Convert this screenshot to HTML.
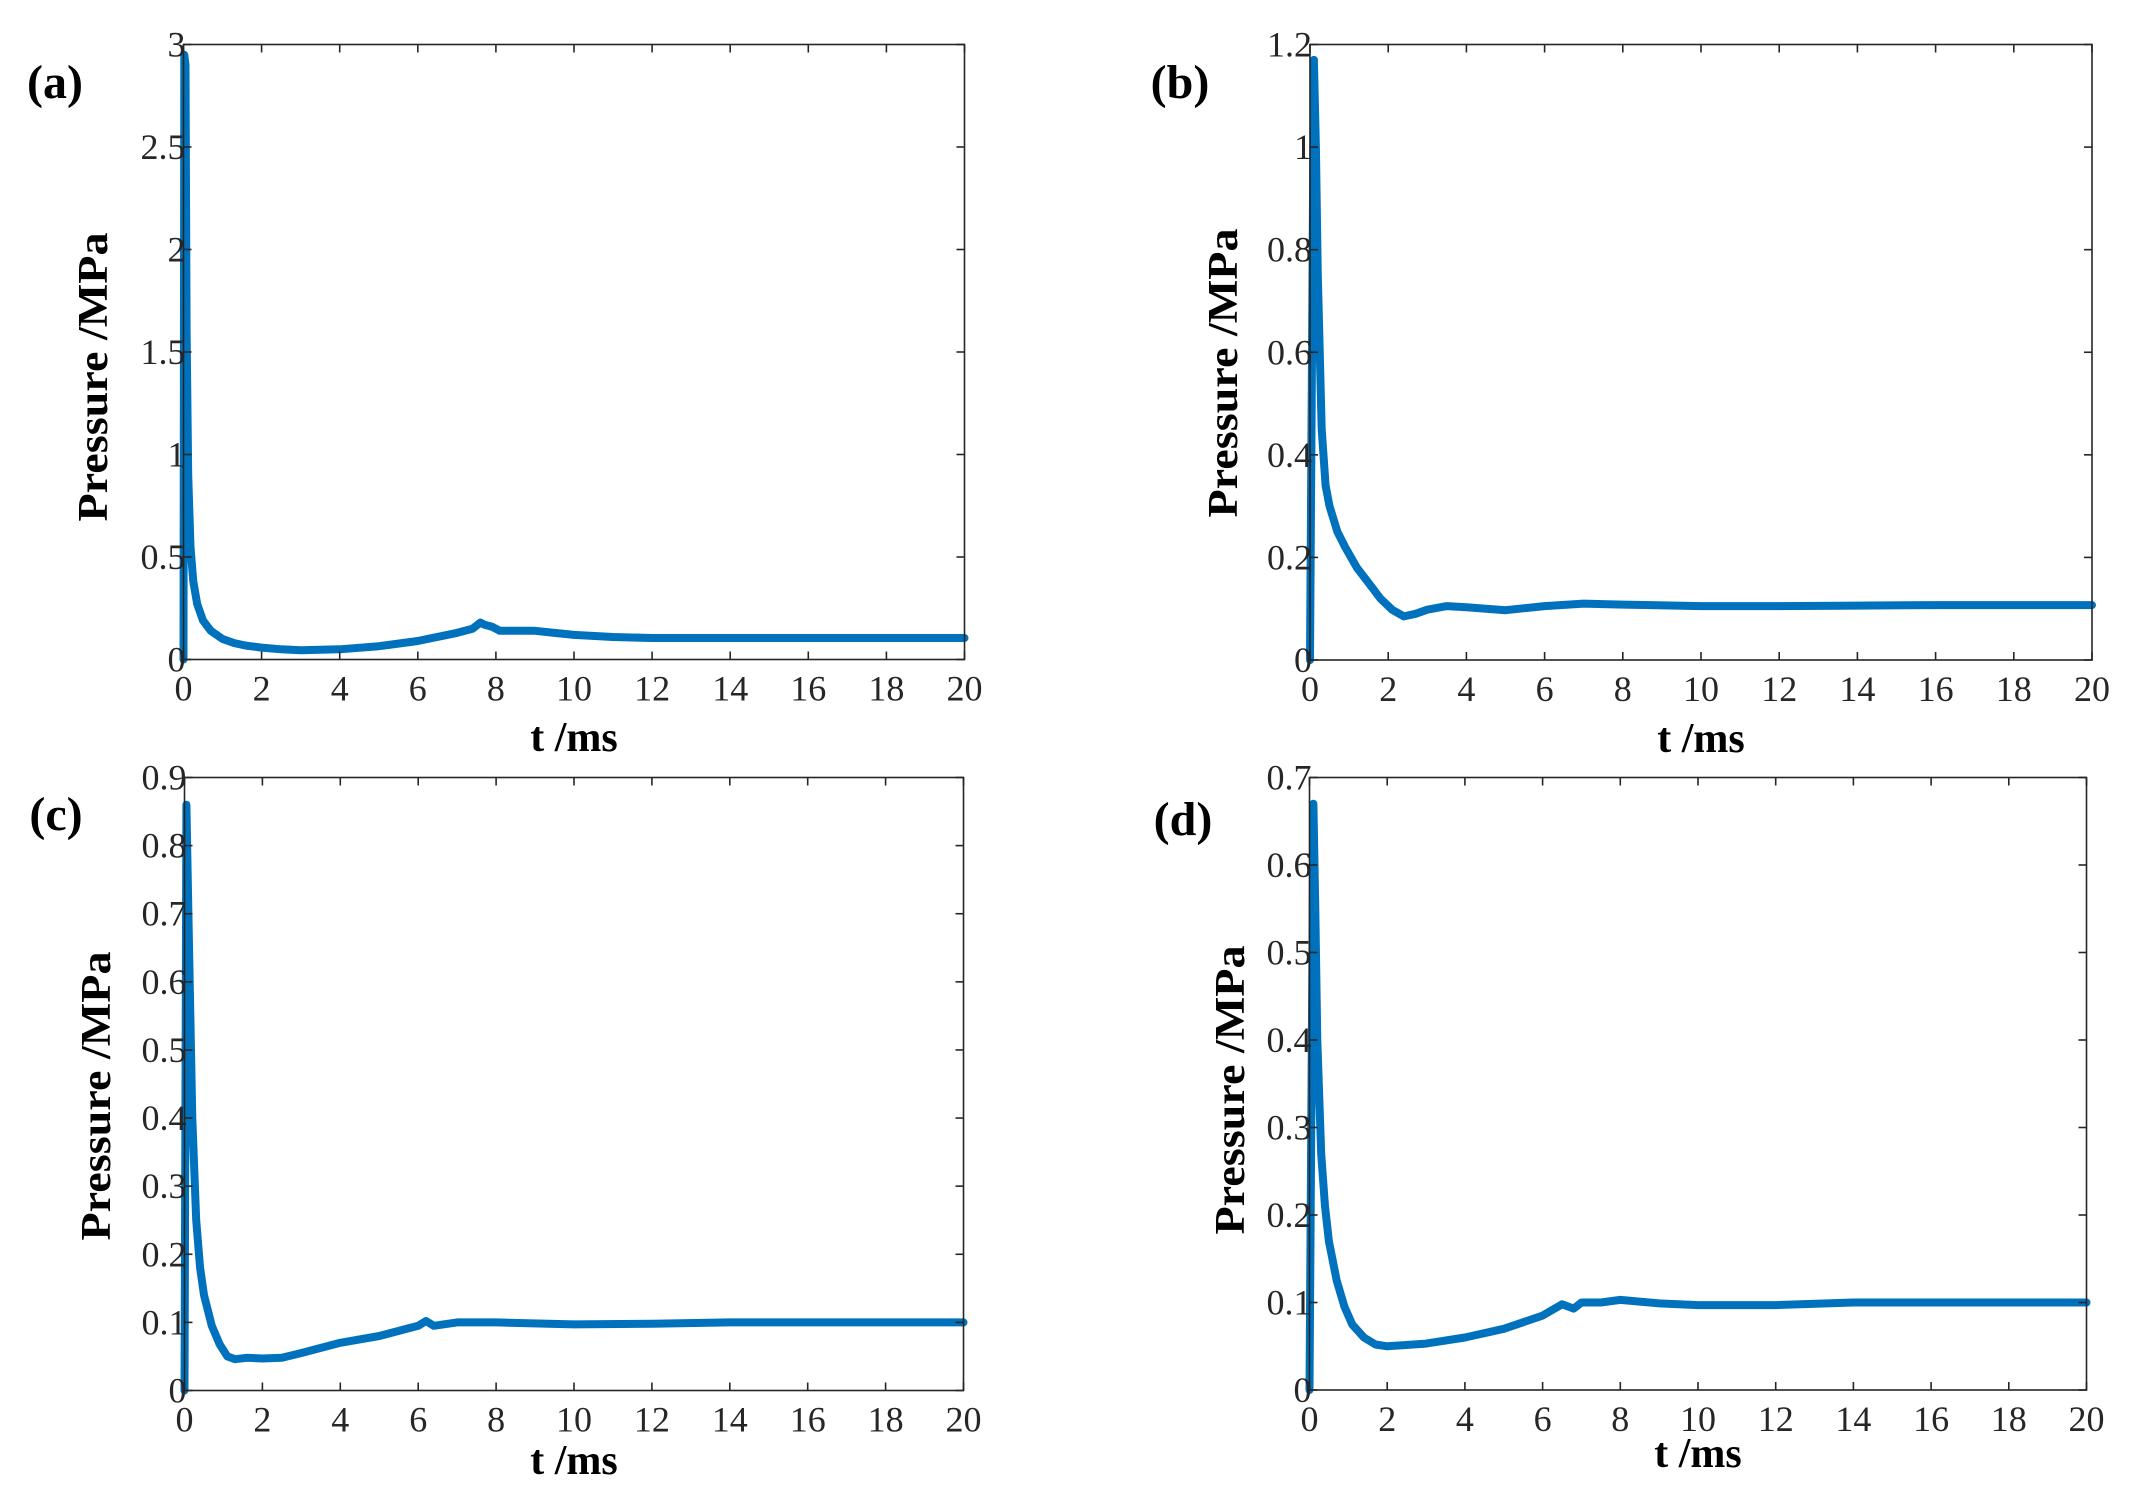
<!DOCTYPE html>
<html><head><meta charset="utf-8"><style>
html,body{margin:0;padding:0;background:#fff;}
svg{display:block;font-family:"Liberation Serif",serif;}
</style></head><body>
<svg id="fig" width="2148" height="1507" viewBox="0 0 2148 1507" xmlns="http://www.w3.org/2000/svg"></svg>
<script>
// Panel (a)
const tA = [0,0.02,0.05,0.08,0.12,0.18,0.25,0.35,0.5,0.7,1,1.3,1.6,2,2.5,3,4,5,6,7,7.4,7.6,7.7,7.9,8.1,8.5,9,9.5,10,11,12,14,16,18,20];
const pA = [0,2.95,2.9,1.6,0.9,0.55,0.38,0.27,0.19,0.14,0.1,0.08,0.068,0.058,0.05,0.045,0.05,0.065,0.09,0.13,0.15,0.18,0.17,0.16,0.14,0.14,0.14,0.13,0.12,0.11,0.105,0.105,0.105,0.105,0.105];
const yTicksA = [0,0.5,1,1.5,2,2.5,3];
const yLabelsA = ["0","0.5","1","1.5","2","2.5","3"];
// Panel (b)
const tB = [0,0.1,0.15,0.2,0.3,0.4,0.5,0.7,0.9,1.2,1.5,1.8,2.1,2.4,2.7,3,3.5,4,5,6,7,8,10,12,14,16,18,20];
const pB = [0,1.17,1.0,0.75,0.45,0.34,0.3,0.25,0.22,0.18,0.15,0.12,0.098,0.085,0.09,0.098,0.105,0.103,0.097,0.105,0.11,0.108,0.105,0.105,0.106,0.107,0.107,0.107];
const yTicksB = [0,0.2,0.4,0.6,0.8,1,1.2];
const yLabelsB = ["0","0.2","0.4","0.6","0.8","1","1.2"];
// Panel (c)
const tC = [0,0.05,0.1,0.2,0.3,0.4,0.5,0.7,0.9,1.1,1.3,1.6,2,2.5,3,4,5,6,6.2,6.4,7,8,10,12,14,16,18,20];
const pC = [0,0.86,0.7,0.4,0.25,0.18,0.14,0.095,0.068,0.05,0.046,0.048,0.047,0.048,0.055,0.07,0.08,0.095,0.102,0.095,0.1,0.1,0.097,0.098,0.1,0.1,0.1,0.1];
const yTicksC = [0,0.1,0.2,0.3,0.4,0.5,0.6,0.7,0.8,0.9];
const yLabelsC = ["0","0.1","0.2","0.3","0.4","0.5","0.6","0.7","0.8","0.9"];
// Panel (d)
const tD = [0,0.1,0.15,0.2,0.3,0.4,0.5,0.7,0.9,1.1,1.4,1.7,2,3,4,5,6,6.5,6.8,7,7.5,8,9,10,12,14,16,18,20];
const pD = [0,0.67,0.55,0.4,0.27,0.21,0.17,0.125,0.095,0.075,0.06,0.052,0.05,0.053,0.06,0.07,0.085,0.098,0.093,0.1,0.1,0.103,0.099,0.097,0.097,0.1,0.1,0.1,0.1];
const yTicksD = [0,0.1,0.2,0.3,0.4,0.5,0.6,0.7];
const yLabelsD = ["0","0.1","0.2","0.3","0.4","0.5","0.6","0.7"];
// shared x axis
const xTicks = [0,2,4,6,8,10,12,14,16,18,20];
const xLabels = ["0","2","4","6","8","10","12","14","16","18","20"];

const NS = "http://www.w3.org/2000/svg";
const svg = document.getElementById('fig');
function mk(tag, attrs, parent){
  const e = document.createElementNS(NS, tag);
  for (const k in attrs) e.setAttribute(k, attrs[k]);
  (parent||svg).appendChild(e);
  return e;
}
const panels = [
  {id:'a', L:183.5, T:44.5, R:964.5, B:659.5, t:tA, p:pA, yt:yTicksA, yl:yLabelsA, ymax:3, lab:[55,82], yt_x:93, yt_y:377, xt_y:737},
  {id:'b', L:1310, T:44.5, R:2092, B:660, t:tB, p:pB, yt:yTicksB, yl:yLabelsB, ymax:1.2, lab:[1180,82], yt_x:1223, yt_y:373, xt_y:738},
  {id:'c', L:184.5, T:777.5, R:963.5, B:1390.5, t:tC, p:pC, yt:yTicksC, yl:yLabelsC, ymax:0.9, lab:[56,814], yt_x:96, yt_y:1096, xt_y:1460},
  {id:'d', L:1309.5, T:777.5, R:2086.5, B:1390, t:tD, p:pD, yt:yTicksD, yl:yLabelsD, ymax:0.7, lab:[1183,819], yt_x:1230, yt_y:1090, xt_y:1453}
];
panels.forEach(P => {
  const g = mk('g', {});
  
  
  const xs = v => P.L + (v/20)*(P.R-P.L);
  const ys = v => P.B - (v/P.ymax)*(P.B-P.T);
  let d = '';
  P.t.forEach((tv,i) => { d += (i?'L':'M') + xs(tv).toFixed(1) + ' ' + ys(P.p[i]).toFixed(1); });
  const line = mk('path', {d:d, fill:'none', stroke:'#0072bd', 'stroke-width':8, 'stroke-linejoin':'round', 'stroke-linecap':'round'}, g);
  
  
  const fr = mk('rect', {x:P.L, y:P.T, width:P.R-P.L, height:P.B-P.T, fill:'none', stroke:'#262626', 'stroke-width':1.6}, g);
  
  
  xTicks.forEach((v,i) => {
    const x = xs(v);
    mk('line', {x1:x, y1:P.B, x2:x, y2:P.B-8, stroke:'#262626', 'stroke-width':1.6}, g);
    mk('line', {x1:x, y1:P.T, x2:x, y2:P.T+8, stroke:'#262626', 'stroke-width':1.6}, g);
    const tx = mk('text', {x:x, y:P.B+41, 'font-size':36, 'text-anchor':'middle', fill:'#262626'}, g);
    tx.textContent = xLabels[i];
    
    
  });
  P.yt.forEach((v,i) => {
    const y = ys(v);
    mk('line', {x1:P.L, y1:y, x2:P.L+8, y2:y, stroke:'#262626', 'stroke-width':1.6}, g);
    mk('line', {x1:P.R, y1:y, x2:P.R-8, y2:y, stroke:'#262626', 'stroke-width':1.6}, g);
    const ty = mk('text', {x:P.L+2, y:y+12, 'font-size':36, 'text-anchor':'end', fill:'#262626'}, g);
    ty.textContent = P.yl[i];
    
    
  });
  const xt = mk('text', {x:(P.L+P.R)/2, y:P.xt_y+14, 'font-size':42, 'font-weight':'bold', 'text-anchor':'middle', fill:'#000'}, g);
  xt.textContent = 't /ms';
  
  
  const yt = mk('text', {x:0, y:0, 'font-size':42, 'font-weight':'bold', 'text-anchor':'middle', fill:'#000', transform:'translate(' + (P.yt_x+14) + ',' + P.yt_y + ') rotate(-90)', textLength:289, lengthAdjust:'spacingAndGlyphs'}, g);
  yt.textContent = 'Pressure /MPa';
  
  
  const pl = mk('text', {x:P.lab[0], y:P.lab[1]+16, 'font-size':48, 'font-weight':'bold', 'text-anchor':'middle', fill:'#000'}, g);
  pl.textContent = '(' + P.id + ')';
  
  
});
</script>
</body></html>
